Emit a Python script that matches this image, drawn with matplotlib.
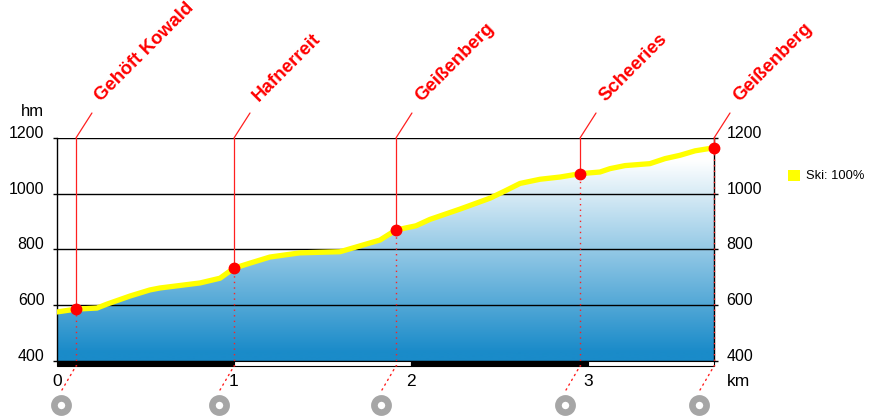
import numpy as np
import matplotlib
matplotlib.use("Agg")
import matplotlib.pyplot as plt
from matplotlib.colors import LinearSegmentedColormap
from matplotlib.patches import Polygon, Rectangle
from matplotlib.transforms import offset_copy

plt.rcParams['font.family'] = ['Liberation Sans', 'DejaVu Sans']

# ---- data ----
dist_km = [0.0, 0.107, 0.226, 0.282, 0.412, 0.525, 0.582, 0.808, 0.921, 1.0,
           1.09, 1.203, 1.316, 1.373, 1.599, 1.712, 1.825, 1.915, 2.028, 2.107,
           2.277, 2.446, 2.531, 2.616, 2.729, 2.842, 2.955, 3.068, 3.124, 3.209,
           3.350, 3.435, 3.52, 3.605, 3.712]
elev_m = [576, 586, 590, 604, 633, 655, 662, 680, 697, 733,
          751, 773, 783, 788, 792, 813, 834, 870, 885, 908,
          945, 984, 1010, 1037, 1052, 1060, 1072, 1078, 1090, 1101,
          1108, 1126, 1138, 1154, 1165]

wp_names = ["Gehöft Kowald", "Hafnerreit", "Geißenberg", "Scheeries", "Geißenberg"]
wp_km = [0.107, 1.0, 1.915, 2.955, 3.712]
wp_elev = [586, 733, 870, 1072, 1165]

y_ticks = [400, 600, 800, 1000, 1200]
x_ticks = [0, 1, 2, 3]
legend_label = "Ski: 100%"

# ---- figure ----
W, H = 870, 417
fig = plt.figure(figsize=(W / 100, H / 100), dpi=100)
ax = fig.add_axes([57 / W, 1 - 361 / H, (714 - 57) / W, (361 - 138) / H])
xmax = dist_km[-1]
ax.set_xlim(0, xmax)
ax.set_ylim(400, 1200)

# gradient fill under profile
cmap = LinearSegmentedColormap.from_list(
    "prof", [(0.0, "#1a8bc9"), (0.04, "#1a8bc9"), (0.9, "#ffffff"), (1.0, "#ffffff")])
grad = np.linspace(0, 1, 512).reshape(-1, 1)
img = ax.imshow(grad, extent=[0, xmax, 400, 1200], origin="lower",
                aspect="auto", cmap=cmap, zorder=1)
poly_xy = [(0, 400)] + list(zip(dist_km, elev_m)) + [(xmax, 400)]
poly = Polygon(poly_xy, closed=True, transform=ax.transData, fc="none", ec="none")
ax.add_patch(poly)
img.set_clip_path(poly)

# gridlines
for yv in y_ticks:
    ax.axhline(yv, color="black", lw=1.0, zorder=2)

# profile line
ax.plot(dist_km, elev_m, color="#ffff00", lw=3.8, zorder=3, solid_capstyle="round")

# spines / ticks
for s in ["top", "bottom"]:
    ax.spines[s].set_visible(False)
for s in ["left", "right"]:
    ax.spines[s].set_color("black")
    ax.spines[s].set_linewidth(1.0)
ax.set_yticks(y_ticks)
ax.tick_params(axis="y", which="both", left=True, right=True, labelleft=True,
               labelright=True, length=3, width=1.0, direction="out",
               labelsize=11.5, pad=6, colors="black")
for lab in ax.get_yticklabels():
    lab.set_va("baseline")
ax.set_xticks(x_ticks)
ax.set_xticklabels([str(v) for v in x_ticks])
ax.tick_params(axis="x", length=0, labelsize=12.5, pad=9)

# km scale bar under axis
bar_h = 5 / 0.27875
for k in range(int(np.ceil(xmax))):
    x0 = k
    x1 = min(k + 1, xmax)
    ax.add_patch(Rectangle((x0, 400 - bar_h), x1 - x0, bar_h,
                           fc="black" if k % 2 == 0 else "white",
                           ec="black", lw=0.8, clip_on=False, zorder=2))

# axis unit labels
ax.annotate("hm", xy=(0, 1200), xytext=(-13, 22), textcoords="offset pixels",
            ha="right", va="baseline", fontsize=12, annotation_clip=False)
ax.annotate("km", xy=(xmax, 400), xytext=(13, -21), textcoords="offset pixels",
            ha="left", va="center", fontsize=12.5, annotation_clip=False)

# waypoints
for name, xk, ev in zip(wp_names, wp_km, wp_elev):
    ax.plot([xk, xk], [ev, 1200], color="#ff2020", lw=0.9, zorder=4, clip_on=False)
    ax.plot([xk, xk], [400 - bar_h, ev], color="#ff2020", lw=1.0,
            ls=(0, (1, 3)), zorder=4, clip_on=False)
    ax.plot([xk], [ev], marker="o", ms=7.5, color="#ff0000", mec="#ff0000",
            zorder=6, clip_on=False)
    ax.annotate("", xy=(xk, 1200), xytext=(16, 25), textcoords="offset pixels",
                arrowprops=dict(arrowstyle="-", color="#ff2020", lw=0.9,
                                shrinkA=0, shrinkB=0), annotation_clip=False)
    ax.annotate(name, xy=(xk, 1200), xytext=(25, 36), textcoords="offset pixels",
                rotation=45, rotation_mode="anchor", ha="left", va="baseline",
                fontsize=13.5, fontweight="bold", color="#ff0000",
                annotation_clip=False)
    ax.annotate("", xy=(xk, 400 - bar_h), xytext=(-14, -24), textcoords="offset pixels",
                arrowprops=dict(arrowstyle="-", color="#ff2020", lw=1.0,
                                linestyle=(0, (1, 3)), shrinkA=0, shrinkB=0),
                annotation_clip=False)
    tr = offset_copy(ax.transData, fig=fig, x=-15, y=-44, units="dots")
    ax.plot([xk], [400], marker="o", ms=10.2, mfc="white", mec="#a6a6a6",
            mew=4.8, transform=tr, clip_on=False, zorder=5)

# legend
fig.patches.append(Rectangle((788 / W, 1 - 181 / H), 12 / W, 11 / H,
                             transform=fig.transFigure, fc="#ffff00", ec="none"))
fig.text(806 / W, 1 - 176 / H, legend_label, ha="left", va="center", fontsize=9.3)

fig.savefig("out.png", dpi=100)
